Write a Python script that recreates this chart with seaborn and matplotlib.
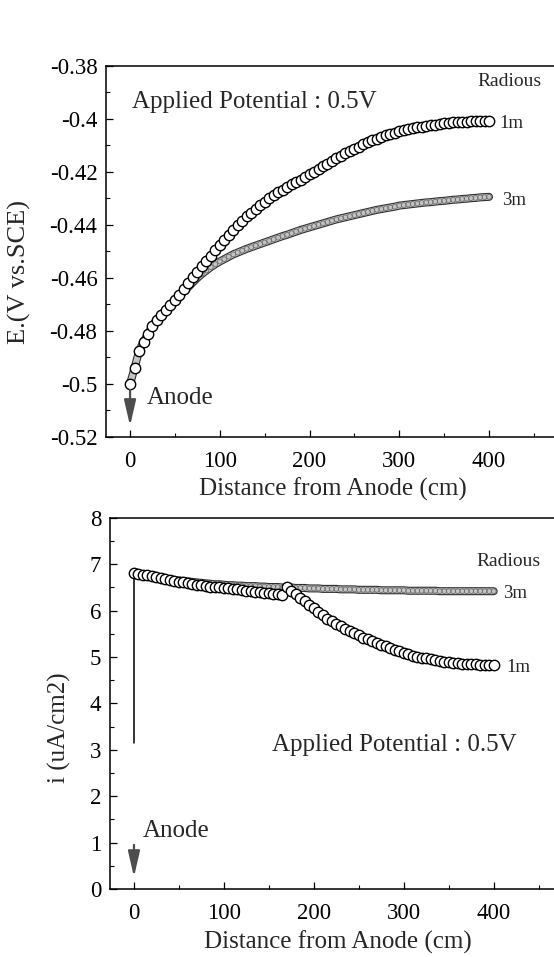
import matplotlib
matplotlib.use("Agg")
import matplotlib.pyplot as plt
import matplotlib.patheffects as pe
from matplotlib.ticker import MultipleLocator, FuncFormatter
import pandas as pd
import seaborn as sns

# Distance from the anode (cm), one reading every 5 cm
distance = list(range(0, 401, 5))

# Potential along the pipe (V vs. SCE) for two radii
e_1m = [
    -0.5000, -0.4940, -0.4876, -0.4840, -0.4812, -0.4780, -0.4757, -0.4738, -0.4720, -0.4701,
    -0.4682, -0.4663, -0.4642, -0.4620, -0.4598, -0.4577, -0.4556, -0.4535, -0.4516, -0.4496,
    -0.4477, -0.4458, -0.4439, -0.4420, -0.4402, -0.4385, -0.4368, -0.4354, -0.4340, -0.4326,
    -0.4313, -0.4300, -0.4288, -0.4277, -0.4267, -0.4257, -0.4247, -0.4238, -0.4229, -0.4219,
    -0.4209, -0.4199, -0.4189, -0.4179, -0.4169, -0.4159, -0.4149, -0.4140, -0.4130, -0.4121,
    -0.4112, -0.4104, -0.4096, -0.4088, -0.4081, -0.4074, -0.4067, -0.4062, -0.4057, -0.4052,
    -0.4047, -0.4043, -0.4039, -0.4035, -0.4032, -0.4029, -0.4026, -0.4023, -0.4021, -0.4019,
    -0.4017, -0.4015, -0.4013, -0.4012, -0.4011, -0.4010, -0.4009, -0.4008, -0.4008, -0.4007,
    -0.4007,
]
e_3m = [
    -0.5000, -0.4940, -0.4876, -0.4840, -0.4812, -0.4780, -0.4757, -0.4738, -0.4721, -0.4703,
    -0.4686, -0.4669, -0.4651, -0.4634, -0.4617, -0.4600, -0.4585, -0.4572, -0.4559, -0.4548,
    -0.4538, -0.4529, -0.4520, -0.4511, -0.4504, -0.4497, -0.4490, -0.4484, -0.4478, -0.4472,
    -0.4466, -0.4460, -0.4454, -0.4448, -0.4442, -0.4437, -0.4431, -0.4425, -0.4419, -0.4414,
    -0.4409, -0.4404, -0.4399, -0.4394, -0.4389, -0.4384, -0.4379, -0.4375, -0.4371, -0.4367,
    -0.4363, -0.4359, -0.4355, -0.4351, -0.4347, -0.4343, -0.4340, -0.4337, -0.4334, -0.4331,
    -0.4327, -0.4325, -0.4323, -0.4321, -0.4319, -0.4317, -0.4315, -0.4314, -0.4312, -0.4310,
    -0.4309, -0.4307, -0.4305, -0.4304, -0.4302, -0.4301, -0.4299, -0.4298, -0.4296, -0.4295,
    -0.4294,
]

# Current density along the pipe (uA/cm2) for two radii
i_1m = [
    6.82, 6.80, 6.78, 6.76, 6.74, 6.72, 6.70, 6.68, 6.66, 6.64,
    6.62, 6.61, 6.59, 6.57, 6.56, 6.55, 6.53, 6.52, 6.51, 6.50,
    6.49, 6.48, 6.47, 6.46, 6.44, 6.43, 6.42, 6.41, 6.40, 6.39,
    6.38, 6.36, 6.35, 6.33, 6.52, 6.43, 6.35, 6.27, 6.20, 6.13,
    6.06, 5.98, 5.90, 5.83, 5.77, 5.71, 5.66, 5.61, 5.56, 5.51,
    5.47, 5.42, 5.38, 5.34, 5.30, 5.26, 5.23, 5.19, 5.16, 5.12,
    5.09, 5.06, 5.03, 5.01, 4.99, 4.97, 4.95, 4.93, 4.92, 4.90,
    4.89, 4.88, 4.87, 4.86, 4.85, 4.84, 4.84, 4.83, 4.83, 4.82,
    4.82,
]
i_3m = [
    6.82, 6.80, 6.78, 6.76, 6.74, 6.72, 6.70, 6.69, 6.67, 6.66,
    6.65, 6.64, 6.63, 6.62, 6.61, 6.60, 6.59, 6.58, 6.57, 6.57,
    6.56, 6.55, 6.55, 6.54, 6.54, 6.53, 6.53, 6.53, 6.52, 6.52,
    6.51, 6.51, 6.51, 6.50, 6.50, 6.50, 6.49, 6.49, 6.49, 6.48,
    6.48, 6.48, 6.47, 6.47, 6.47, 6.47, 6.46, 6.46, 6.46, 6.46,
    6.45, 6.45, 6.45, 6.45, 6.45, 6.44, 6.44, 6.44, 6.44, 6.44,
    6.44, 6.43, 6.43, 6.43, 6.43, 6.43, 6.43, 6.43, 6.42, 6.42,
    6.42, 6.42, 6.42, 6.42, 6.42, 6.42, 6.42, 6.42, 6.42, 6.42,
    6.42,
]

# Current rises from this value to the first reading right at the anode
i_anode_start = 3.15

sns.set_theme(style="ticks")
plt.rcParams["font.family"] = ["Liberation Serif", "DejaVu Serif"]
plt.rcParams["axes.unicode_minus"] = False

df_e = pd.DataFrame({"distance": distance * 2, "E": e_1m + e_3m,
                     "radius": ["1m"] * len(distance) + ["3m"] * len(distance)})
df_i = pd.DataFrame({"distance": distance * 2, "i": i_1m + i_3m,
                     "radius": ["1m"] * len(distance) + ["3m"] * len(distance)})

fig = plt.figure(figsize=(5.54, 9.57), dpi=100)
ax1 = fig.add_axes([0.1910, 0.5434, 0.8213, 0.3877])
ax2 = fig.add_axes([0.1980, 0.0711, 0.8230, 0.3877])

band_fx = [pe.Stroke(linewidth=5.8, foreground="#303030"), pe.Normal()]


def draw_pair(ax, df, col):
    thick = df[df["radius"] == "3m"]
    thin = df[df["radius"] == "1m"]
    sns.lineplot(data=thick, x="distance", y=col, ax=ax, color="#c4c4c4",
                 linewidth=4.2, path_effects=band_fx, legend=False, zorder=2)
    sns.scatterplot(data=thick, x="distance", y=col, ax=ax, s=12, marker="o",
                    facecolor="none", edgecolor="#6a6a6a", linewidth=0.55,
                    legend=False, zorder=2.5)
    sns.scatterplot(data=thin, x="distance", y=col, ax=ax, s=56, marker="o",
                    facecolor="white", edgecolor="black", linewidth=1.0,
                    legend=False, zorder=3)


draw_pair(ax1, df_e, "E")
draw_pair(ax2, df_i, "i")
ax2.plot([distance[0], distance[0]], [i_anode_start, i_1m[0]], color="black",
         linewidth=1.1, zorder=1.5)

fmt = FuncFormatter(lambda v, p: "%g" % round(v, 4))
for ax in (ax1, ax2):
    ax.set_xlim(-27, 480)
    ax.xaxis.set_major_locator(MultipleLocator(100))
    ax.xaxis.set_minor_locator(MultipleLocator(50))
    ax.xaxis.set_major_formatter(fmt)
    ax.yaxis.set_major_formatter(fmt)
    ax.tick_params(which="major", direction="in", length=5, width=0.9,
                   labelsize=16.5, color="black", labelcolor="black")
    ax.tick_params(axis="x", which="major", pad=10)
    ax.tick_params(axis="y", which="major", pad=6)
    ax.tick_params(which="minor", direction="in", length=3, width=0.8, color="black")
    for sp in ax.spines.values():
        sp.set_linewidth(1.1)
        sp.set_color("black")
    ax.set_ylabel("")
    ax.set_facecolor("white")

ax1.set_xlabel("Distance from Anode (cm)", fontsize=18, labelpad=4)
ax2.set_xlabel("Distance from Anode (cm)", fontsize=18, labelpad=5)

ax1.set_ylim(-0.52, -0.38)
ax1.yaxis.set_major_locator(MultipleLocator(0.02))
ax1.yaxis.set_minor_locator(MultipleLocator(0.01))
ax2.set_ylim(0, 8)
ax2.yaxis.set_major_locator(MultipleLocator(1))
ax2.yaxis.set_minor_locator(MultipleLocator(0.5))

fig.text(0.036, 0.716, "E.(V vs.SCE)", rotation=90, ha="center", va="center", fontsize=19)
fig.text(0.108, 0.240, "i (uA/cm2)", rotation=90, ha="center", va="center", fontsize=18)

# Upper panel notes
ax1.text(2, -0.3935, "Applied Potential : 0.5V", fontsize=18, ha="left", va="center")
ax1.text(387, -0.3860, "Radious", fontsize=14, ha="left", va="center")
ax1.text(412, -0.4016, "1m", fontsize=13.5, ha="left", va="center")
ax1.text(414, -0.4306, "3m", fontsize=13.5, ha="left", va="center")
ax1.text(19, -0.5053, "Anode", fontsize=18, ha="left", va="center")
ax1.annotate("", xy=(0, -0.5158), xytext=(0, -0.5022),
             arrowprops=dict(arrowstyle="-|>,head_length=1.3,head_width=0.3",
                             color="#4d4d4d", lw=1.6, shrinkA=0, shrinkB=0))

# Lower panel notes
ax2.text(153, 3.11, "Applied Potential : 0.5V", fontsize=18, ha="left", va="center")
ax2.text(381, 7.07, "Radious", fontsize=14, ha="left", va="center")
ax2.text(410, 6.38, "3m", fontsize=13.5, ha="left", va="center")
ax2.text(414, 4.77, "1m", fontsize=13.5, ha="left", va="center")
ax2.text(10, 1.24, "Anode", fontsize=18, ha="left", va="center")
ax2.annotate("", xy=(0, 0.26), xytext=(0, 0.95),
             arrowprops=dict(arrowstyle="-|>,head_length=1.3,head_width=0.3",
                             color="#4d4d4d", lw=1.6, shrinkA=0, shrinkB=0))

fig.savefig("out.png", dpi=100, facecolor="white")
